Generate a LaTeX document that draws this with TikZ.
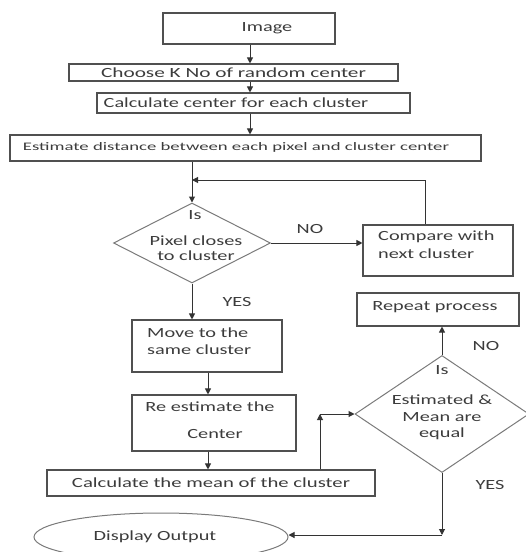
\documentclass[tikz,border=0pt]{standalone}
\usepackage{fontspec}
\setmainfont{Carlito}
\newfontfamily\fA[FakeStretch=1.45]{Carlito}
\newfontfamily\fB[FakeStretch=1.48]{Carlito}
\newfontfamily\fC[FakeStretch=1.52]{Carlito}
\newfontfamily\fD[FakeStretch=1.63]{Carlito}
\usetikzlibrary{shapes.geometric,arrows.meta}
\definecolor{ink}{HTML}{3C3C3C}
\definecolor{edge}{HTML}{505050}
\definecolor{dedge}{HTML}{7A7A7A}
\begin{document}
\begin{tikzpicture}[x=1pt,y=-1pt,
  box/.style={draw=edge,line width=1.1pt,rectangle,inner sep=0pt},
  dia/.style={draw=dedge,line width=1pt,diamond,inner sep=0pt},
  oval/.style={draw=dedge,line width=1pt,ellipse,inner sep=0pt},
  txt/.style={text=ink,font=\fA\fontsize{14}{16}\selectfont,inner sep=0pt},
  mtxt/.style={text=ink,font=\fB\fontsize{14}{16}\selectfont,inner sep=0pt},
  ctxt/.style={text=ink,font=\fC\fontsize{14}{16}\selectfont,inner sep=0pt},
  stxt/.style={text=ink,font=\fD\fontsize{11.5}{13}\selectfont,inner sep=0pt},
  conn/.style={draw=black!80,line width=1pt},
  arr/.style={conn,-{Triangle[length=6pt,width=6pt]}}]
\useasboundingbox (0,0) rectangle (526,552);
% boxes
\node[box,minimum width=172pt,minimum height=31pt] (img) at (249,28.5) {};
\node[txt] at (267,28) {Image};
\node[box,minimum width=329pt,minimum height=17pt] (choose) at (233.5,72.5) {};
\node[ctxt] at (233.5,72.5) {Choose K No of random center};
\node[box,minimum width=313pt,minimum height=20pt] (calc) at (253.5,103) {};
\node[txt] at (236,103) {Calculate center for each cluster};
\node[box,minimum width=471pt,minimum height=26pt] (est) at (245.5,148) {};
\node[stxt] at (236,147) {Estimate distance between each pixel and cluster center};
% diamond 1
\node[dia,minimum width=157pt,minimum height=80pt] (d1) at (192,243) {};
\node[txt] at (195,215) {Is};
\node[txt] at (196,241) {Pixel closes};
\node[txt] at (196,256) {to cluster};
% compare
\node[box,minimum width=150pt,minimum height=51pt] (cmp) at (438,250.5) {};
\node[txt,anchor=west] at (378,237) {Compare with};
\node[txt,anchor=west] at (378,254) {next cluster};
% move
\node[box,minimum width=150pt,minimum height=52pt] (move) at (207,346) {};
\node[txt,anchor=west] at (147,333) {Move to the};
\node[txt,anchor=west] at (147,350) {same cluster};
% re estimate
\node[box,minimum width=164pt,minimum height=56pt] (reest) at (214,423) {};
\node[txt] at (210,407) {Re estimate the};
\node[txt] at (215,434) {Center};
% mean
\node[box,minimum width=328pt,minimum height=26pt] (mean) at (211,483) {};
\node[mtxt] at (211,483) {Calculate the mean of the cluster};
% diamond 2
\node[dia,minimum width=174pt,minimum height=117pt] (d2) at (442,414) {};
\node[txt] at (442,370) {Is};
\node[txt] at (442,400) {Estimated \&};
\node[txt] at (442,417) {Mean are};
\node[txt] at (442,434) {equal};
% repeat
\node[box,minimum width=162pt,minimum height=33pt] (rep) at (438,309.5) {};
\node[txt] at (435,307) {Repeat process};
% output
\node[oval,minimum width=254pt,minimum height=48pt] (out) at (161,537) {};
\node[txt] at (155,537) {Display Output};
% labels
\node[txt] (no1) at (310,229) {NO};
\node[txt] (yes1) at (237,302) {YES};
\node[txt] (no2) at (486,346) {NO};
\node[txt] (yes2) at (490,485) {YES};
% connectors
\draw[arr] (img.south -| 250,0) -- (choose.north -| 250,0);
\draw[arr] (choose.south -| 250,0) -- (calc.north -| 250,0);
\draw[arr] (calc.south -| 250,0) -- (est.north -| 250,0);
\draw[arr] (est.south -| d1.north) -- (d1.north);
\coordinate (lpA) at (425,180);
\coordinate (lpB) at (192,180);
\draw[arr] (cmp.north -| lpA) -- (lpA) -- (lpB);
\draw[arr] (d1.east) -- (d1.east -| cmp.west);
\draw[arr] (d1.south) -- (d1.south |- move.north);
\draw[arr] (move.south -| 208,0) -- (reest.north -| 208,0);
\draw[arr] (reest.south -| 208,0) -- (mean.north -| 208,0);
\coordinate (cr) at (320,414);
\draw[arr] (mean.north -| cr) -- (cr);
\draw[arr] (cr) -- (d2.west);
\draw[arr] (d2.north) -- (rep.south -| d2.north);
\coordinate (dn) at (442,535);
\draw[arr] (d2.south) -- (dn);
\draw[arr] (dn) -- (out.east |- dn);
\end{tikzpicture}
\end{document}
